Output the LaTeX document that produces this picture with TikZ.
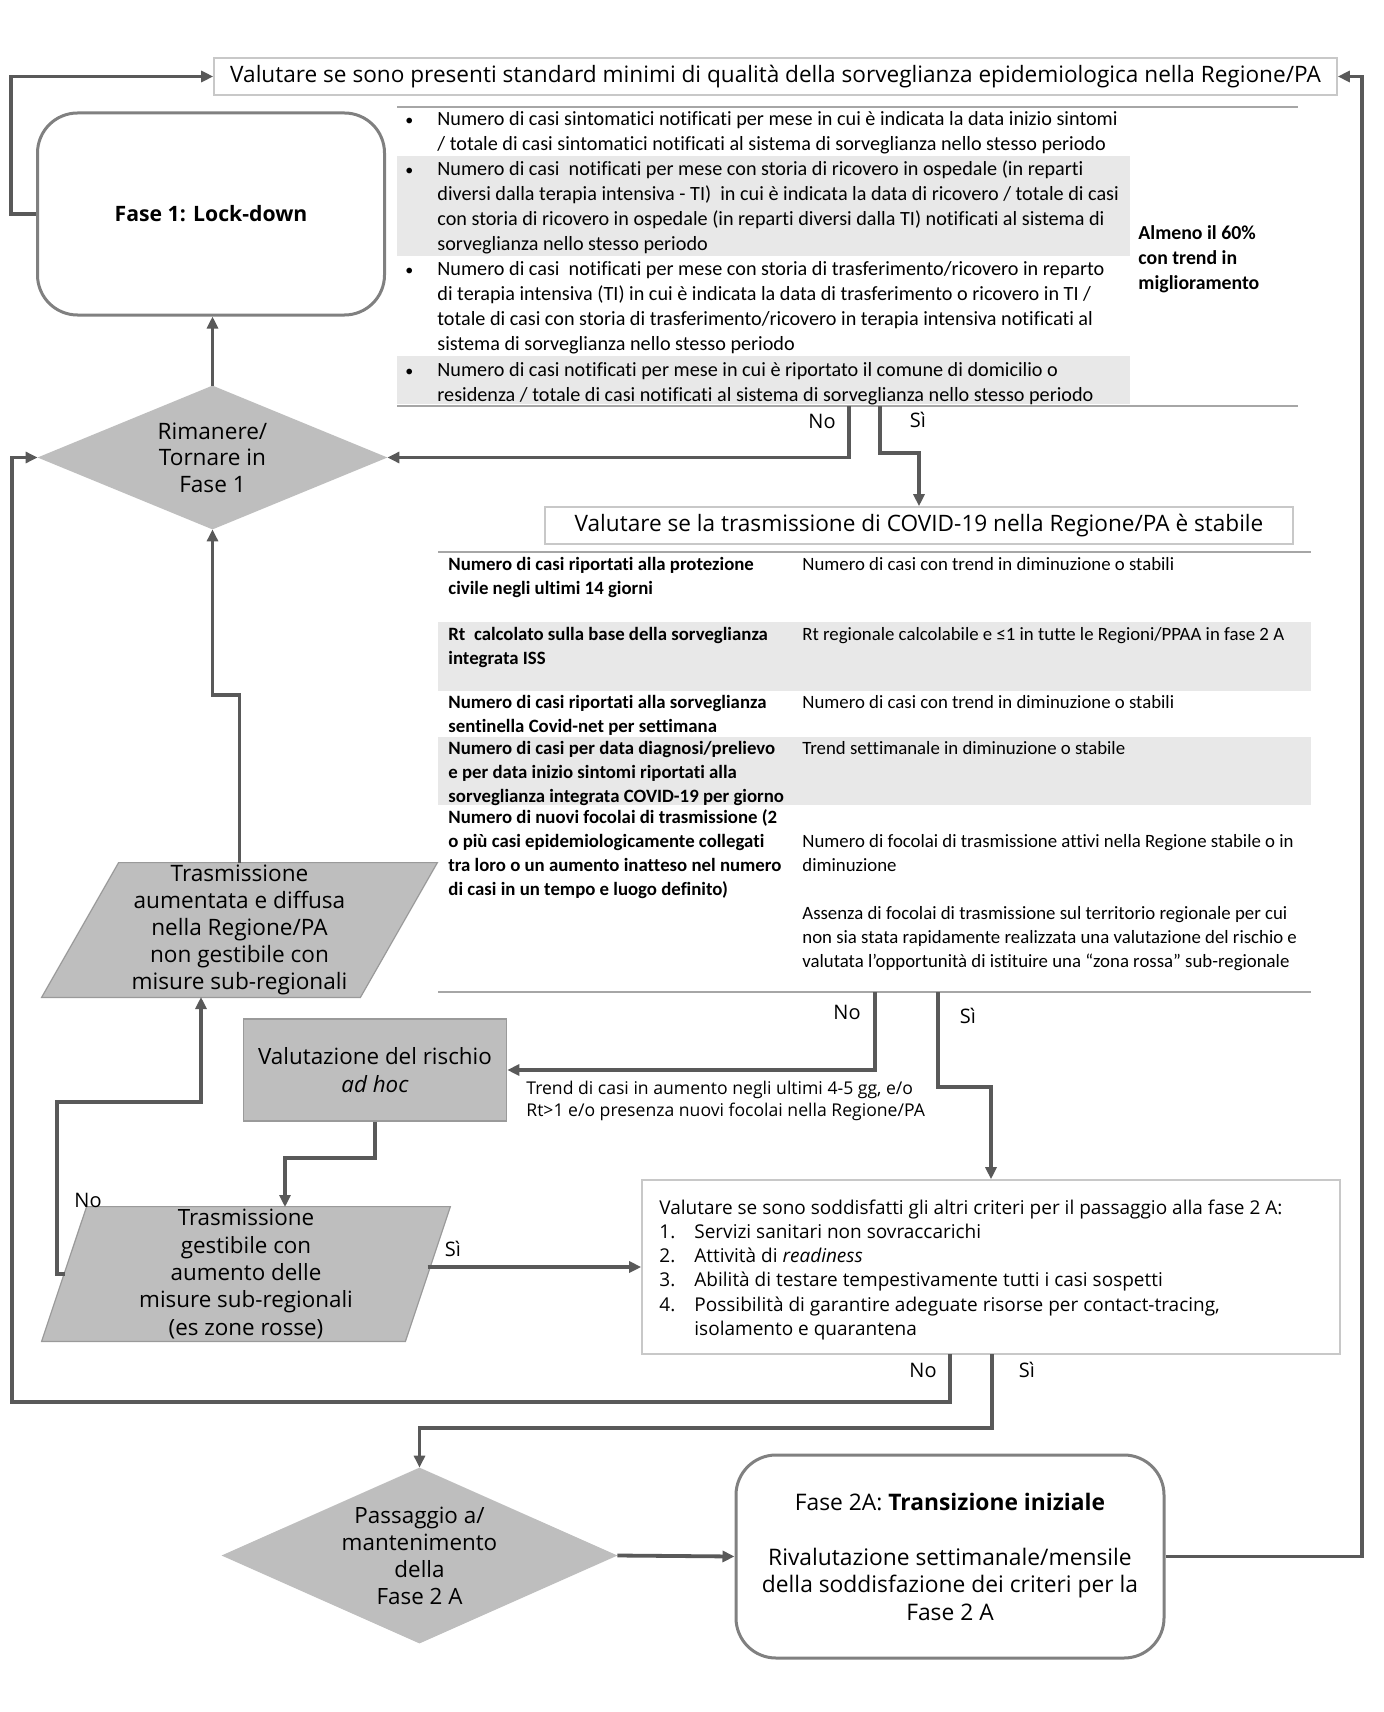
\documentclass[tikz,border=0pt]{standalone}
\usepackage{fontspec}
\setmainfont{Open Sans}
\newfontfamily\calfont[Ligatures=NoCommon]{Carlito}
\usetikzlibrary{arrows.meta,backgrounds,calc}
\definecolor{linec}{HTML}{595959}
\definecolor{shapefill}{HTML}{BEBEBE}
\definecolor{shapeedge}{HTML}{9A9A9A}
\definecolor{rowgray}{HTML}{E8E8E8}
\definecolor{rulec}{HTML}{A6A6A6}
\definecolor{boxborder}{HTML}{C8C8C8}
\definecolor{roundborder}{HTML}{808080}
\begin{document}
\begin{tikzpicture}[x=0.5pt,y=-0.5pt,
  conn/.style={draw=linec, line width=1.6pt, -{Triangle[length=6pt,width=5.5pt]}},
  outer/.style={conn, line width=1.9pt},
  rule/.style={draw=rulec, line width=1pt},
  titlebox/.style={draw=boxborder, line width=0.8pt, fill=white, inner sep=0pt,
     font=\fontsize{11.3}{13}\selectfont},
  phasebox/.style={draw=roundborder, line width=1.5pt, fill=white, rounded corners=20pt,
     inner sep=0pt, align=center},
  shapetext/.style={inner sep=0pt, align=center, font=\fontsize{11.3}{13.3}\selectfont},
  tabA/.style={anchor=north west, inner sep=0pt, align=left, font=\calfont\fontsize{10.1}{12.5}\selectfont},
  bulletA/.style={tabA, font=\calfont\fontsize{8}{12.5}\selectfont},
  tabB/.style={anchor=north west, inner sep=0pt, align=left, font=\calfont\fontsize{9.4}{12}\selectfont},
  tabBb/.style={tabB, font=\calfont\bfseries\fontsize{9.4}{12}\selectfont},
  lbl/.style={inner sep=0pt, font=\fontsize{10}{12}\selectfont},
]
\begin{pgfonlayer}{background}
\fill[white] (0,0) rectangle (1383,1712);
\end{pgfonlayer}
\useasboundingbox (0,0) rectangle (1383,1712);

% ---------- title 1
\node[titlebox, minimum width=561.5pt, minimum height=18.5pt] (t1) at (775.5,76.5)
  {Valutare se sono presenti standard minimi di qualità della sorveglianza epidemiologica nella Regione/PA};

% ---------- Fase 1
\node[phasebox, minimum width=173.5pt, minimum height=101pt, font=\bfseries\fontsize{10.6}{13}\selectfont]
  (fase1) at (211,214) {Fase 1: Lock-down};

% ---------- table 1
\fill[rowgray] (397,156) rectangle (1130,256);
\fill[rowgray] (397,356) rectangle (1130,404);
\draw[rule] (397,107) -- (1298,107);
\draw[rule] (397,406) -- (1298,406);
\node[bulletA] (a1b) at (405,107.5) {\strut•};
\node[tabA] (a1) at (437,107.5) {\strut Numero di casi sintomatici notificati per mese in cui è indicata la data inizio sintomi\\
/ totale di casi sintomatici notificati al sistema di sorveglianza nello stesso periodo};
\node[bulletA] (a2b) at (405,157.5) {\strut•};
\node[tabA] (a2) at (437,157.5) {\strut Numero di casi\ \ notificati per mese con storia di ricovero in ospedale (in reparti\\
diversi dalla terapia intensiva - TI)\ \ in cui è indicata la data di ricovero / totale di casi\\
con storia di ricovero in ospedale (in reparti diversi dalla TI) notificati al sistema di\\
sorveglianza nello stesso periodo};
\node[bulletA] (a3b) at (405,257.5) {\strut•};
\node[tabA] (a3) at (437,257.5) {\strut Numero di casi\ \ notificati per mese con storia di trasferimento/ricovero in reparto\\
di terapia intensiva (TI) in cui è indicata la data di trasferimento o ricovero in TI /\\
totale di casi con storia di trasferimento/ricovero in terapia intensiva notificati al\\
sistema di sorveglianza nello stesso periodo};
\node[bulletA] (a4b) at (405,358.5) {\strut•};
\node[tabA] (a4) at (437,358.5) {\strut Numero di casi notificati per mese in cui è riportato il comune di domicilio o\\
residenza / totale di casi notificati al sistema di sorveglianza nello stesso periodo};
\node[tabA, font=\calfont\bfseries\fontsize{9.9}{12.5}\selectfont] (almeno) at (1138,222)
  {\strut Almeno il 60\%\\con trend in\\miglioramento};

% ---------- Rimanere diamond
\node[shapetext, minimum width=174.5pt, minimum height=71.5pt] (rim) at (212.5,457.5)
  {Rimanere/\\Tornare in\\Fase 1};
\begin{pgfonlayer}{background}
\fill[shapefill] (rim.north) -- (rim.east) -- (rim.south) -- (rim.west) -- cycle;
\end{pgfonlayer}

% ---------- title 2
\node[titlebox, minimum width=374pt, minimum height=18.5pt] (t2) at (919,525.5)
  {Valutare se la trasmissione di COVID-19 nella Regione/PA è stabile};

% ---------- table 2
\fill[rowgray] (438,622) rectangle (1311,691);
\fill[rowgray] (438,737) rectangle (1311,805);
\draw[rule] (438,552) -- (1311,552);
\draw[rule] (438,992) -- (1311,992);
\node[tabBb] (b1a) at (448,553) {\strut Numero di casi riportati alla protezione\\civile negli ultimi 14 giorni};
\node[tabB] (b1b) at (802,553) {\strut Numero di casi con trend in diminuzione o stabili};
\node[tabBb] (b2a) at (448,623) {\strut Rt\ \ calcolato sulla base della sorveglianza\\integrata ISS};
\node[tabB] (b2b) at (802,623) {\strut Rt regionale calcolabile e ≤1 in tutte le Regioni/PPAA in fase 2 A};
\node[tabBb] (b3a) at (448,691) {\strut Numero di casi riportati alla sorveglianza\\sentinella Covid-net per settimana};
\node[tabB] (b3b) at (802,691) {\strut Numero di casi con trend in diminuzione o stabili};
\node[tabBb] (b4a) at (448,737) {\strut Numero di casi per data diagnosi/prelievo\\e per data inizio sintomi riportati alla\\sorveglianza integrata COVID-19 per giorno};
\node[tabB] (b4b) at (802,737) {\strut Trend settimanale in diminuzione o stabile};
\node[tabBb] (b5a) at (448,806) {\strut Numero di nuovi focolai di trasmissione (2\\o più casi epidemiologicamente collegati\\tra loro o un aumento inatteso nel numero\\di casi in un tempo e luogo definito)};
\node[tabB] (b5b) at (802,830) {\strut Numero di focolai di trasmissione attivi nella Regione stabile o in\\diminuzione};
\node[tabB] (b5c) at (802,902) {\strut Assenza di focolai di trasmissione sul territorio regionale per cui\\non sia stata rapidamente realizzata una valutazione del rischio e\\valutata l’opportunità di istituire una “zona rossa” sub-regionale};

% ---------- Valutazione del rischio
\node[draw=shapeedge, line width=0.8pt, fill=shapefill, minimum width=131.5pt, minimum height=51pt,
  inner sep=0pt, align=center, font=\fontsize{11.2}{14}\selectfont] (val) at (375,1070)
  {Valutazione del rischio\\\textit{ad hoc}};
\node[anchor=north west, inner sep=0pt, align=left, font=\fontsize{8.8}{11}\selectfont] (trend) at (526,1078.6)
  {\strut Trend di casi in aumento negli ultimi 4-5 gg, e/o\\Rt>1 e/o presenza nuovi focolai nella Regione/PA};

% ---------- Trasmissione aumentata (parallelogram)
\node[shapetext, minimum width=197.5pt, minimum height=67pt, font=\fontsize{11.3}{13.5}\selectfont] (aum) at (239.5,930)
  {Trasmissione\\aumentata e diffusa\\nella Regione/PA\\non gestibile con\\misure sub-regionali};
\begin{pgfonlayer}{background}
\filldraw[fill=shapefill, draw=shapeedge, line width=0.6pt]
  ($(aum.north west)+(77,0)$) -- (aum.north east) -- ($(aum.south east)+(-77,0)$) -- (aum.south west) -- cycle;
\end{pgfonlayer}

% ---------- Trasmissione gestibile (parallelogram)
\node[shapetext, minimum width=204pt, minimum height=67pt, font=\fontsize{11.2}{13.7}\selectfont] (gest) at (246,1274)
  {Trasmissione\\gestibile con\\aumento delle\\misure sub-regionali\\(es zone rosse)};
\begin{pgfonlayer}{background}
\filldraw[fill=shapefill, draw=shapeedge, line width=0.6pt]
  ($(gest.north west)+(45,0)$) -- (gest.north east) -- ($(gest.south east)+(-45,0)$) -- (gest.south west) -- cycle;
\end{pgfonlayer}

% ---------- box 3
\node[draw=boxborder, line width=0.8pt, minimum width=349pt, minimum height=87pt, inner sep=0pt] (b3) at (991,1267) {};
\node[anchor=north west, inner sep=0pt, align=left, font=\fontsize{9.5}{12.1}\selectfont] (b3txt) at (659,1197)
  {\strut Valutare se sono soddisfatti gli altri criteri per il passaggio alla fase 2 A:\\
  \makebox[17.5pt][l]{1.}Servizi sanitari non sovraccarichi\\
  \makebox[17.5pt][l]{2.}Attività di \textit{readiness}\\
  \makebox[17.5pt][l]{3.}Abilità di testare tempestivamente tutti i casi sospetti\\
  \makebox[17.5pt][l]{4.}Possibilità di garantire adeguate risorse per contact-tracing,\\
  \hspace*{17.5pt}isolamento e quarantena};

% ---------- Passaggio diamond
\node[shapetext, minimum width=197.5pt, minimum height=87.5pt, font=\fontsize{11.2}{13.5}\selectfont] (pas) at (419.5,1555.5)
  {Passaggio a/\\mantenimento\\della\\Fase 2 A};
\begin{pgfonlayer}{background}
\fill[shapefill] (pas.north) -- (pas.east) -- (pas.south) -- (pas.west) -- cycle;
\end{pgfonlayer}

% ---------- Fase 2A
\node[phasebox, minimum width=214pt, minimum height=101.5pt, font=\fontsize{11.4}{13.75}\selectfont]
  (f2) at (950,1556.5) {Fase 2A: \textbf{Transizione iniziale}\\[13.75pt]Rivalutazione settimanale/mensile\\della soddisfazione dei criteri per la\\Fase 2 A};

% ---------- labels
\node[lbl] (l1no) at (822,421) {No};
\node[lbl] (l1si) at (918,420) {Sì};
\node[lbl] (l2no) at (847,1012) {No};
\node[lbl] (l2si) at (968,1016) {Sì};
\node[lbl] (l3si) at (453,1249) {Sì};
\node[lbl] (l3no) at (88,1200) {No};
\node[lbl] (l4no) at (923,1370) {No};
\node[lbl] (l4si) at (1027,1370) {Sì};

% ---------- connector end points
\coordinate (tAno) at (849,406);
\coordinate (tAsi) at (880,406);
\coordinate (tBno) at (875,992);
\coordinate (tBsi) at (938,992);
\coordinate (gin) at (285,1207);
\coordinate (aumIn) at (201,997);
\coordinate (gestL) at (64.5,1274);
\coordinate (gestR) at (427.5,1267);
\coordinate (b3no) at (950,1354);
\coordinate (b3si) at (992,1354);

% ---------- connectors
\draw[outer] (fase1.west) -- (11,214) |- (t1.west);
\draw[conn] (rim.north) -- (rim.north |- fase1.south);
\draw[conn] (tAno) |- (rim.east);
\draw[conn] (tAsi) -- (880,453) -| (t2.north);
\draw[conn] (tBno) |- (val.east);
\draw[conn] (tBsi) -- (938,1087) -| (b3.north);
\draw[conn] (val.south) -- (375,1158) -| (gin);
\draw[conn] (aum.north) -- (239.5,695) -| (rim.south);
\draw[conn] (gestL) -- (57,1274) -- (57,1102) -| (aumIn);
\draw[conn] (gestR) -- (b3.west);
\draw[outer] (b3no) -- (950,1402) -- (12,1402) |- (rim.west);
\draw[outer] (b3si) -- (992,1428) -| (pas.north);
\draw[outer] (pas.east) -- (f2.west);
\draw[outer] (f2.east) -- (1362,1556.5) |- (t1.east);
\end{tikzpicture}
\end{document}
